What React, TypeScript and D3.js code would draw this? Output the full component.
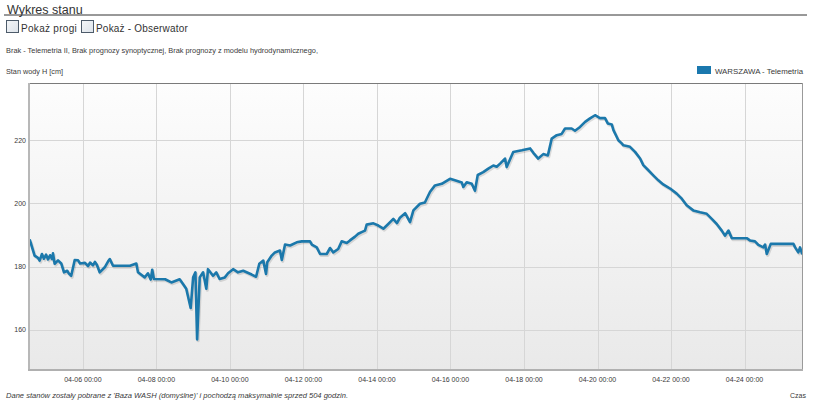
import React from "react";
import * as d3 from "d3";

const title = "Wykres stanu";
const checkboxLabels = ["Pokaż progi", "Pokaż - Obserwator"];
const infoText = "Brak - Telemetria II, Brak prognozy synoptycznej, Brak prognozy z modelu hydrodynamicznego,";
const yAxisTitle = "Stan wody H [cm]";
const xAxisTitle = "Czas";
const seriesName = "WARSZAWA - Telemetria";
const footerText = "Dane stanów zostały pobrane z 'Baza WASH (domyślne)' i pochodzą maksymalnie sprzed 504 godzin.";

// hours from start (04-04 13:30)
const hours = [
  0, 3, 5.2, 6.3, 7.8, 9.1, 10.5, 11.8, 13.1, 14.4, 15, 16.1, 18.3, 20.4, 22.2, 24.3, 25.4, 26.9,
  29.2, 31.4, 32.7, 35.9, 37.9, 39.2, 41.1, 42.4, 43.7, 45.5, 48.8, 51, 52.1, 54.2, 58.8, 65.3,
  69.4, 70.5, 74.9, 77, 78.8, 79.8, 80.9, 88.2, 92.3, 97.7, 99.9, 102, 104.9, 106.5, 108, 109.1,
  110.8, 113, 115.1, 116.2, 119.5, 121.6, 123.8, 127.2, 129.3, 132.6, 135.8, 139.2, 144.7, 147.6,
  149.7, 152.3, 154.1, 154.9, 157.8, 159.9, 163.2, 164.4, 166.5, 169.8, 174.1, 177.4, 182.8, 184,
  187.2, 189.4, 193.7, 195.9, 198, 201.2, 203.5, 206.8, 208.9, 212.2, 214.3, 216.5, 218.7, 219.8,
  224.2, 227.4, 230.7, 233.9, 237.2, 239.6, 241.5, 244.9, 248.1, 250.3, 254.6, 257.8, 260, 261.2,
  264.4, 268.8, 274.2, 277.4, 281.9, 282.9, 285.1, 288.4, 290.5, 292.3, 295.9, 299.2, 302.5, 304.7,
  306.9, 310.1, 311.2, 315.5, 321.1, 326.5, 328.6, 331.8, 335.1, 338.1, 340.6, 343.9, 347.1, 349.3,
  353.6, 355.8, 359.1, 362.4, 365.6, 368.9, 372.1, 375.4, 377.2, 379.8, 380.9, 383.1, 384.1, 386.3,
  387.4, 391.7, 395, 398.3, 400.4, 403.7, 406.9, 410.2, 413.4, 417.9, 422.2, 425.5, 428.7, 433,
  437.5, 441.8, 445.1, 448.3, 451.6, 453.7, 456, 458.2, 467.9, 470, 473.3, 475.5, 478.8, 479.9,
  481, 483.6, 498.4, 499.5, 501.6, 502.7, 504,
];
const levels = [
  188.3, 183.5, 182.8, 181.9, 184, 182.5, 183.8, 182.3, 183.6, 182.4, 184.2, 180.9, 182, 181, 178.2, 178.7, 177.8, 177.1,
  182.1, 182, 181, 181.2, 180.2, 181.3, 180.4, 181.5, 180.5, 178.2, 179.8, 181.7, 182.4, 180.3, 180.3, 180.3,
  181, 178.2, 176.6, 177.9, 175.9, 179, 176.1, 176, 175, 176, 174.5, 173, 166.9, 176.6, 178.2, 157,
  176.6, 178.2, 173, 179.2, 177.1, 178.2, 176.1, 176.6, 177.9, 179.2, 178.2, 178.7, 177.5, 176.8,
  180.9, 181.9, 177.7, 181.4, 183.5, 184.5, 185.1, 182.1, 187, 186.7, 187.7, 188, 188, 187,
  186.1, 184, 184, 185.9, 184.5, 185.6, 188, 187.5, 188.3, 189.5, 190.4, 190.9, 191.4, 193.3,
  193.7, 193, 192, 193.5, 195.1, 193.8, 195.5, 196.9, 194.1, 197.8, 199.9, 200.3, 202.5, 203.7,
  205.7, 206.2, 207.8, 207.3, 206.6, 205.2, 206.7, 206.2, 204, 209, 209.9, 211, 212, 211.6,
  212.6, 214.2, 211.5, 216.3, 216.8, 217.4, 216, 214.2, 215.6, 215.2, 220.5, 221.6, 222, 223.7,
  223.7, 223, 224.2, 225.8, 226.9, 227.9, 227, 227, 225.3, 225, 223.2, 221, 220, 219,
  218.4, 217.9, 216.3, 214.2, 212.1, 210.5, 208.9, 207.3, 206, 204.7, 203.1, 201.5, 199.4, 197.8,
  197.2, 196.7, 195.1, 193.5, 191.4, 189.8, 191.4, 189, 189, 188.3, 188, 186.9, 186.1, 187,
  184, 187.2, 187.2, 186.1, 184.5, 186.1, 184.2,
];
const xTickLabels = ["04-06", "04-08", "04-10", "04-12", "04-14", "04-16", "04-18", "04-20", "04-22", "04-24"];
const yTicks = [160, 180, 200, 220];

const YEAR = 2024;
const start = new Date(YEAR, 3, 4, 13, 30);
const end = new Date(start.getTime() + 504 * 3600 * 1000);

export default function App() {
  const W = 822, H = 405;
  const left = 30, right = 802, top = 83, bottom = 370;
  const x = d3.scaleTime().domain([start, end]).range([left, right]);
  const y = d3.scaleLinear().domain([147.3, 238.1]).range([bottom, top]);
  const data = hours.map((h, i) => ({ t: new Date(start.getTime() + h * 3600 * 1000), v: levels[i] }));
  const line = d3.line<{ t: Date; v: number }>().x(d => x(d.t)).y(d => y(d.v));
  const path = line(data) || "";
  const fmt = d3.timeFormat("%m-%d %H:%M");
  const tickDates = xTickLabels.map(s => {
    const [m, d] = s.split("-").map(Number);
    return new Date(YEAR, m - 1, d, 0, 0);
  });
  const font = "'Liberation Sans', Arial, sans-serif";
  const textCol = "#3a3a3a";
  return (
    <svg width={W} height={H} style={{ position: "absolute", left: 0, top: 0, background: "#fff" }} fontFamily={font}>
      <defs>
        <linearGradient id="bg" x1="0" y1="0" x2="0" y2="1">
          <stop offset="0" stopColor="#fdfdfd" />
          <stop offset="1" stopColor="#e9e9e9" />
        </linearGradient>
        <linearGradient id="cb" x1="0" y1="0" x2="1" y2="1">
          <stop offset="0" stopColor="#f4f6f8" />
          <stop offset="1" stopColor="#dde3ea" />
        </linearGradient>
        <clipPath id="clip">
          <rect x={left} y={top} width={right - left} height={bottom - top} />
        </clipPath>
      </defs>
      <text x={7} y={13.5} fontSize={12.5} fill="#333">{title}</text>
      <line x1={4} x2={807} y1={15} y2={15} stroke="#333" strokeWidth={1} />
      <rect x={6.5} y={20.5} width={12} height={12} fill="url(#cb)" stroke="#4d5b6a" strokeWidth={1} />
      <text x={21} y={32} fontSize={10} fill="#333" letterSpacing={0.3}>{checkboxLabels[0]}</text>
      <rect x={81.5} y={20.5} width={12} height={12} fill="url(#cb)" stroke="#4d5b6a" strokeWidth={1} />
      <text x={96} y={32} fontSize={10} fill="#333" letterSpacing={0.2}>{checkboxLabels[1]}</text>
      <text x={6} y={53} fontSize={7} fill={textCol} textLength={312} lengthAdjust="spacingAndGlyphs">{infoText}</text>
      <text x={6} y={73.5} fontSize={7} fill={textCol} textLength={57} lengthAdjust="spacingAndGlyphs">{yAxisTitle}</text>
      <rect x={697} y={66} width={14} height={8} fill="#1a78ae" />
      <text x={715} y={74} fontSize={7.5} fill={textCol} textLength={88} lengthAdjust="spacingAndGlyphs">{seriesName}</text>

      <rect x={left} y={top} width={right - left} height={bottom - top} fill="url(#bg)" />
      {yTicks.map(t => (
        <line key={"gy" + t} x1={left} x2={right} y1={Math.round(y(t)) + 0.5} y2={Math.round(y(t)) + 0.5} stroke="#d6d6d6" />
      ))}
      {tickDates.map((d, i) => (
        <line key={"gx" + i} x1={Math.round(x(d)) + 0.5} x2={Math.round(x(d)) + 0.5} y1={top} y2={bottom} stroke="#d6d6d6" />
      ))}
      <line x1={left} x2={right} y1={top + 0.5} y2={top + 0.5} stroke="#7a7a7a" />
      <line x1={right + 0.5} x2={right + 0.5} y1={top} y2={bottom} stroke="#9a9a9a" />
      <line x1={left - 1} x2={left - 1} y1={top} y2={bottom + 1} stroke="#b8b8b8" strokeWidth={2} />
      <line x1={left - 2} x2={right + 1} y1={bottom} y2={bottom} stroke="#b0b0b0" strokeWidth={2} />

      <g clipPath="url(#clip)">
        <path d={path} fill="none" stroke="rgba(0,0,0,0.12)" strokeWidth={3} transform="translate(1,1.5)" strokeLinejoin="round" />
        <path d={path} fill="none" stroke="#1b78ab" strokeWidth={2.6} strokeLinejoin="round" strokeLinecap="round" />
      </g>

      {yTicks.map(t => (
        <text key={"ty" + t} x={26} y={y(t) + 2.5} fontSize={7} fill={textCol} textAnchor="end">{t}</text>
      ))}
      {tickDates.map((d, i) => (
        <text key={"tx" + i} x={x(d)} y={382} fontSize={7} fill={textCol} textAnchor="middle">{fmt(d)}</text>
      ))}
      <text x={6} y={398} fontSize={7} fontStyle="italic" fill={textCol} textLength={342} lengthAdjust="spacingAndGlyphs">{footerText}</text>
      <text x={806} y={398} fontSize={7} fill={textCol} textAnchor="end">{xAxisTitle}</text>
    </svg>
  );
}
